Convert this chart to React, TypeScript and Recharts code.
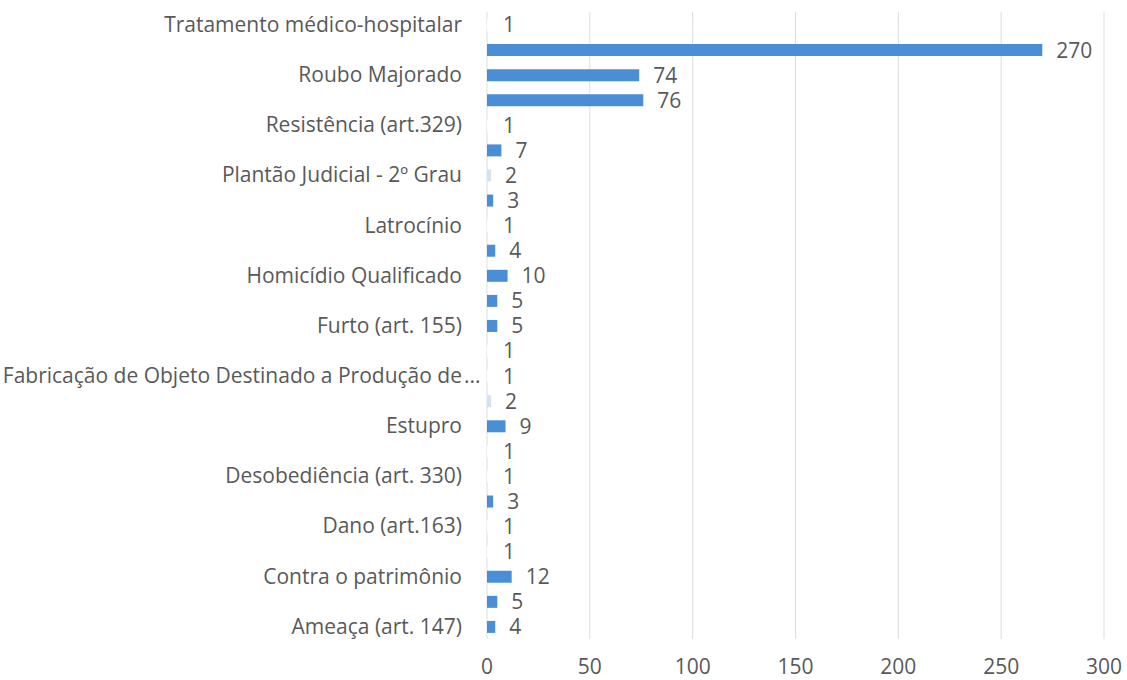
import { BarChart, Bar, XAxis, YAxis, CartesianGrid, LabelList, Cell } from "recharts";

// crime categories, top to bottom (Excel only prints every other name)
const categories = [
    "Tratamento médico-hospitalar",
    "Tráfico de Drogas",
    "Roubo Majorado",
    "Roubo",
    "Resistência (art.329)",
    "Receptação",
    "Plantão Judicial - 2º Grau",
    "Lesão Corporal",
    "Latrocínio",
    "Injúria",
    "Homicídio Qualificado",
    "Homicídio Culposo",
    "Furto (art. 155)",
    "Falsidade Ideológica",
    "Fabricação de Objeto Destinado a Produção de Drogas",
    "Extorsão",
    "Estupro",
    "Estelionato",
    "Desobediência (art. 330)",
    "Descumprimento de Medida Protetiva",
    "Dano (art.163)",
    "Corrupção de Menores",
    "Contra o patrimônio",
    "Associação Criminosa",
    "Ameaça (art. 147)",
];

const counts = [
    1, 270, 74, 76, 1, 7, 2, 3, 1, 4, 10, 5, 5, 1, 1, 2, 9, 1, 1, 3, 1, 1, 12, 5, 4,
];

const xTicks = [0, 50, 100, 150, 200, 250, 300];

const TEXT = "#595959";
const BAR = "#4a8fd6";
const FONT = 21;
const MAX_LABEL = 44;

const data = categories.map((name, i) => ({ name, value: counts[i] }));

// thin bars come out washed out in the original render
function barColor(v: number) {
    if (v <= 1) return "#ffffff";
    if (v === 2) return "#d3e3f4";
    return BAR;
}

function CategoryTick(props: any) {
    const { x, y, payload } = props;
    const full: string = payload.value;
    const cut = full.length > MAX_LABEL + 3;
    const text = cut ? full.slice(0, MAX_LABEL).trimEnd() : full;
    return (
        <g>
            <text x={x} y={y} dy="0.35em" textAnchor="end" fill={TEXT} fontSize={FONT}>
                {text}
            </text>
            {cut && (
                <text x={x + 2} y={y} dy="0.35em" textAnchor="start" fill={TEXT} fontSize={FONT}>
                    ...
                </text>
            )}
        </g>
    );
}

export default function App() {
    return (
        <div style={{ position: "absolute", left: 0, top: 0, background: "#fff" }}>
            <BarChart
                width={1127}
                height={680}
                data={data}
                layout="vertical"
                margin={{ top: 12, right: 23, bottom: 0, left: 0 }}
                style={{ fontFamily: "'Open Sans', sans-serif" }}
            >
                <CartesianGrid horizontal={false} stroke="#d9dde3" />
                <XAxis
                    type="number"
                    domain={[0, 300]}
                    ticks={xTicks}
                    axisLine={false}
                    tickLine={false}
                    height={41}
                    tickMargin={14}
                    tick={{ fill: TEXT, fontSize: FONT }}
                />
                <YAxis
                    type="category"
                    dataKey="name"
                    width={487}
                    interval={1}
                    axisLine={false}
                    tickLine={false}
                    tickMargin={19}
                    tick={<CategoryTick />}
                />
                <Bar dataKey="value" barSize={12} isAnimationActive={false}>
                    {data.map((d) => (
                        <Cell key={d.name} fill={barColor(d.value)} />
                    ))}
                    <LabelList
                        dataKey="value"
                        position="right"
                        offset={14}
                        fill={TEXT}
                        fontSize={FONT}
                    />
                </Bar>
            </BarChart>
        </div>
    );
}
